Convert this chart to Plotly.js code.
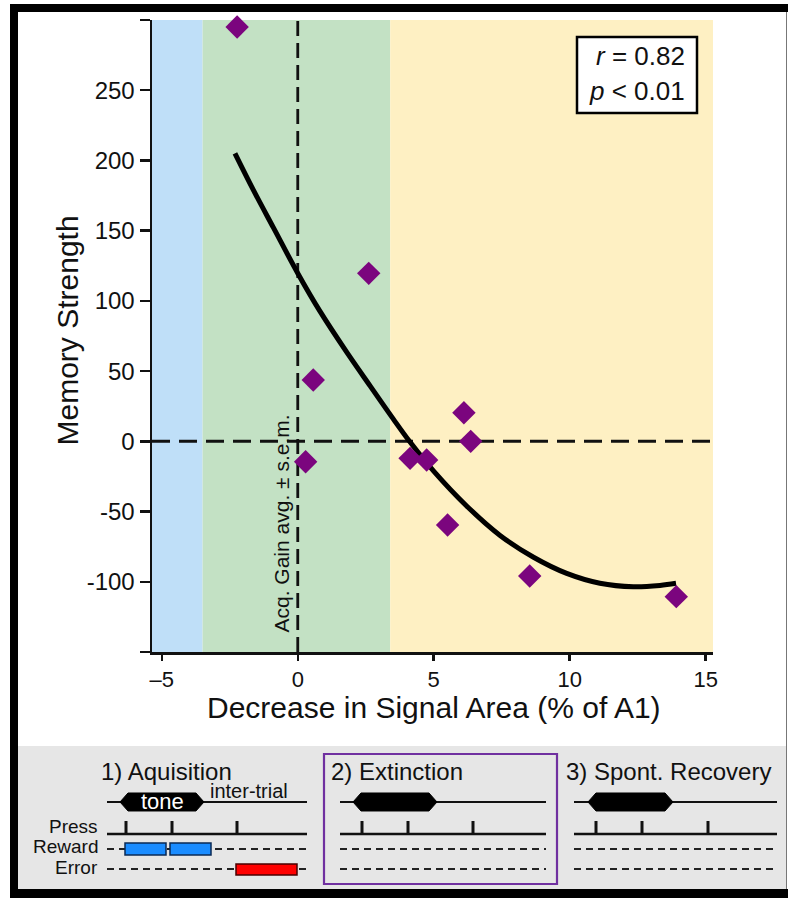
<!DOCTYPE html>
<html>
<head>
<meta charset="utf-8">
<script src="https://cdn.plot.ly/plotly-3.0.1.min.js"></script>
<style>html,body{margin:0;padding:0;background:#fff;}#chart{width:788px;height:898px;}</style>
</head>
<body>
<div id="chart"></div>
<script>
// ---- data ----
const pointX = [-2.23, 2.61, 0.57, 0.29, 4.13, 4.74, 6.11, 6.36, 5.51, 8.53, 13.92];
const pointY = [295, 119.6, 43.7, -14.5, -12.1, -13.3, 20.4, 0, -59.6, -95.9, -110.6];
const fitX = [-2.31, -1.63, -0.90, 0.02, 0.82, 1.80, 2.66, 3.51, 4.13, 4.99, 6.21, 7.44, 8.67, 9.89, 11.11, 12.34, 13.32, 13.91];
const fitY = [205.1, 178.9, 152.3, 119.0, 92.5, 63.5, 39.5, 16.0, -0.5, -21.0, -46.0, -67.0, -82.5, -94.0, -101.0, -103.5, -102.6, -101.1];
const zoneEdges = [-5.36, -3.5, 3.4, 15.27];
const xTicks = [-5, 0, 5, 10, 15];
const xTickLabels = ['–5', '0', '5', '10', '15'];
const yTicks = [-150, -100, -50, 0, 50, 100, 150, 200, 250, 300];
const yTickLabels = ['', '-100', '-50', '0', '50', '100', '150', '200', '250', ''];
const statLines = ['<i>r</i> = 0.82', '<i>p</i> < 0.01'];
const phaseTitles = ['1) Aquisition', '2) Extinction', '3) Spont. Recovery'];
const rowLabels = ['Press', 'Reward', 'Error'];

// ---- layout geometry (pixels) ----
const W = 788, H = 898, L = 152, R = 713, T = 20, B = 652;
const X = px => (px - L) / (R - L);
const Y = py => (B - py) / (B - T);
const FONT = 'Liberation Sans, Arial, Helvetica, sans-serif';

const shapes = [];
const zoneColors = ['#bfdff8', '#c3e1c4', '#fef0c3'];
for (let i = 0; i < 3; i++) {
  shapes.push({type: 'rect', xref: 'x', yref: 'paper', x0: zoneEdges[i], x1: zoneEdges[i + 1], y0: 0, y1: 1,
    fillcolor: zoneColors[i], line: {width: 0}, layer: 'below'});
}
shapes.push({type: 'line', xref: 'paper', yref: 'y', x0: 0, x1: 1, y0: 0, y1: 0,
  line: {color: '#111', width: 3, dash: '18px,9px'}, layer: 'below'});
shapes.push({type: 'line', xref: 'x', yref: 'paper', x0: 0, x1: 0, y0: 0, y1: 1,
  line: {color: '#111', width: 2.8, dash: '15px,7px'}, layer: 'below'});

function prect(x0, y0, x1, y1, fill, lc, lw) {
  shapes.push({type: 'rect', xref: 'paper', yref: 'paper', x0: X(x0), x1: X(x1), y0: Y(y1), y1: Y(y0),
    fillcolor: fill, line: {color: lc || fill, width: lw || 0}});
}
function pline(x0, y0, x1, y1, color, w, dash) {
  shapes.push({type: 'line', xref: 'paper', yref: 'paper', x0: X(x0), x1: X(x1), y0: Y(y0), y1: Y(y1),
    line: {color: color, width: w, dash: dash || 'solid'}});
}
function ppath(pts, fill) {
  const d = pts.map((p, i) => (i ? 'L' : 'M') + X(p[0]).toFixed(5) + ',' + Y(p[1]).toFixed(5)).join(' ') + ' Z';
  shapes.push({type: 'path', xref: 'paper', yref: 'paper', path: d, fillcolor: fill, line: {color: fill, width: 1}});
}

// frame
prect(18, 746, 786, 889, '#e6e6e6');
prect(10, 4, 788, 12, '#000');
prect(10, 4, 18, 898, '#000');
prect(10, 889, 788, 898, '#000');
pline(786.5, 12, 786.5, 889, '#777', 1);

// stats box
prect(577, 37, 697, 113, '#ffffff', '#000', 2.5);

// schematic panels
const panels = [
  {x0: 107, x1: 307, cap: [120, 204], ticks: [126, 172, 237]},
  {x0: 340, x1: 546, cap: [353, 437], ticks: [362, 408, 473]},
  {x0: 574, x1: 777, cap: [588, 673], ticks: [596, 642, 708]}
];
const toneY = 802, pressY = 834, rewardY = 849, errorY = 869;
panels.forEach(p => {
  pline(p.x0, toneY, p.x1, toneY, '#111', 2);
  const a = p.cap[0], b = p.cap[1];
  ppath([[a, toneY], [a + 8, 793], [b - 8, 793], [b, toneY], [b - 8, 811], [a + 8, 811]], '#000');
  pline(p.x0, pressY, p.x1, pressY, '#111', 2.5);
  p.ticks.forEach(t => pline(t, 821, t, pressY, '#111', 3));
  pline(p.x0, rewardY, p.x1, rewardY, '#222', 2, '7px,5px');
  pline(p.x0, errorY, p.x1, errorY, '#222', 2, '7px,5px');
});
prect(125, 843, 166, 855, '#1a8cff', '#0a2a55', 1.5);
prect(170, 843, 211, 855, '#1a8cff', '#0a2a55', 1.5);
prect(236, 864, 297, 875, '#ff0000', '#4a0000', 1.5);
prect(324, 754, 557, 884, 'rgba(0,0,0,0)', '#7030a0', 2.2);

// annotations
const ann = [];
function txt(text, px, py, size, xanchor, opts) {
  ann.push(Object.assign({text: text, xref: 'paper', yref: 'paper', x: X(px), y: Y(py),
    xanchor: xanchor, yanchor: 'middle', showarrow: false, borderpad: 0,
    font: {family: FONT, size: size, color: '#111'}}, opts || {}));
}
txt('Decrease in Signal Area (% of A1)', 434, 707.5, 30, 'center');
txt('Memory Strength', 66.5, 331, 30, 'center', {textangle: -90});
txt('Acq. Gain avg. ± s.e.m.', 280.5, 524, 21, 'center', {textangle: -90});
txt(statLines[0], 686, 56, 26, 'right');
txt(statLines[1], 686, 91, 26, 'right');
txt(phaseTitles[0], 100, 771.5, 24, 'left');
txt(phaseTitles[1], 330, 771.5, 24, 'left');
txt(phaseTitles[2], 565, 771.5, 24, 'left');
txt('tone', 162, 801, 22, 'center', {font: {family: FONT, size: 22, color: '#fff'}});
txt('inter-trial', 209, 791, 20, 'left');
txt(rowLabels[0], 99, 826, 19, 'right');
txt(rowLabels[1], 99, 846.5, 19, 'right');
txt(rowLabels[2], 99, 867, 19, 'right');

const traces = [
  {x: fitX, y: fitY, mode: 'lines', line: {color: '#000', width: 5, shape: 'spline', smoothing: 1}, hoverinfo: 'skip'},
  {x: pointX, y: pointY, mode: 'markers', marker: {symbol: 'diamond', size: 18, color: '#7b057e'}, cliponaxis: false}
];

const layout = {
  width: W, height: H,
  margin: {l: L, r: W - R, t: T, b: H - B, pad: 0},
  paper_bgcolor: '#ffffff', plot_bgcolor: '#ffffff',
  showlegend: false,
  font: {family: FONT, color: '#111'},
  xaxis: {range: [zoneEdges[0], zoneEdges[3]], tickvals: xTicks, ticktext: xTickLabels,
    showline: true, linecolor: '#111', linewidth: 2.5, ticks: 'outside', ticklen: 6, tickwidth: 2.5, tickcolor: '#111',
    showgrid: false, zeroline: false, tickfont: {family: FONT, size: 22, color: '#111'}, fixedrange: true},
  yaxis: {range: [-150, 300], tickvals: yTicks, ticktext: yTickLabels,
    showline: true, linecolor: '#111', linewidth: 2.5, ticks: 'outside', ticklen: 10, tickwidth: 2.5, tickcolor: '#111',
    showgrid: false, zeroline: false, tickfont: {family: FONT, size: 24, color: '#111'}, fixedrange: true},
  shapes: shapes,
  annotations: ann
};

Plotly.newPlot('chart', traces, layout, {displayModeBar: false, staticPlot: true});
</script>
</body>
</html>
